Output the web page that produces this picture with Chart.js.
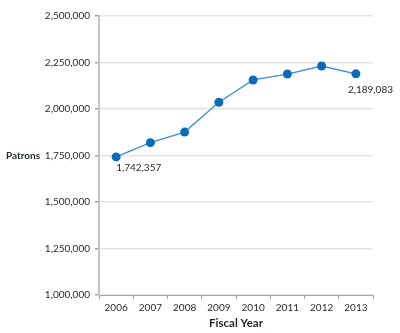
<!DOCTYPE html>
<html>
<head>
<meta charset="utf-8">
<script src="https://cdn.jsdelivr.net/npm/chart.js@4"></script>
<style>
  html, body { margin: 0; padding: 0; background: #fff; }
  #wrap { width: 400px; height: 333px; }
</style>
</head>
<body>
<div id="wrap"><canvas id="patronsChart"></canvas></div>
<script>
const years = ['2006', '2007', '2008', '2009', '2010', '2011', '2012', '2013'];
const patrons = [1742357, 1819000, 1876000, 2036000, 2156000, 2188000, 2231000, 2189083];
const labelledPoints = [0, 7]; // which points get a value label

const fontName = 'Lato, "Open Sans", sans-serif';
const textColor = '#2b2b2b';

// draws "Patrons" beside the axis and the two value labels
const extraText = {
    id: 'extraText',
    afterDatasetsDraw(chart) {
        const ctx = chart.ctx;
        const yScale = chart.scales.y;
        const meta = chart.getDatasetMeta(0);

        ctx.save();
        ctx.fillStyle = '#1f2a1f';
        ctx.font = 'bold 10px ' + fontName;
        ctx.textAlign = 'left';
        ctx.textBaseline = 'middle';
        ctx.fillText('Patrons', 6, yScale.getPixelForValue(1750000));

        ctx.fillStyle = textColor;
        ctx.font = '10px ' + fontName;
        labelledPoints.forEach(i => {
            const pt = meta.data[i];
            const txt = patrons[i].toLocaleString('en-US');
            if (i === 0) {
                ctx.fillText(txt, pt.x, pt.y + 11);
            } else {
                ctx.fillText(txt, pt.x - 8, pt.y + 16);
            }
        });
        ctx.restore();
    }
};

const config = {
    type: 'line',
    data: {
        labels: years,
        datasets: [{
            label: 'Patrons',
            data: patrons,
            borderColor: '#3d8fd3',
            borderWidth: 1.3,
            backgroundColor: '#0b6bb8',
            pointBackgroundColor: '#0b6bb8',
            pointBorderColor: '#0b6bb8',
            pointBorderWidth: 0,
            pointRadius: 4.5,
            tension: 0
        }]
    },
    options: {
        animation: false,
        responsive: true,
        maintainAspectRatio: false,
        layout: {
            padding: { left: 42, right: 27, top: 16, bottom: 0 }
        },
        plugins: {
            legend: { display: false },
            tooltip: { enabled: false }
        },
        scales: {
            x: {
                offset: true,
                grid: {
                    offset: true,
                    drawOnChartArea: false,
                    drawTicks: true,
                    tickLength: 4,
                    tickColor: '#a0a0a0'
                },
                border: { color: '#a8a8a8', width: 1 },
                ticks: {
                    color: textColor,
                    font: { family: fontName, size: 10 },
                    padding: 3,
                    maxRotation: 0
                },
                title: {
                    display: true,
                    text: 'Fiscal Year',
                    color: '#1f2a1f',
                    font: { family: fontName, size: 11.5, weight: 'bold' },
                    padding: { top: 0, bottom: 3 }
                },
                afterFit(scale) {
                    scale.height = 38;
                }
            },
            y: {
                min: 1000000,
                max: 2500000,
                grid: {
                    color: '#e4e4e4',
                    lineWidth: 1.5,
                    tickLength: 4,
                    tickColor: '#a0a0a0'
                },
                border: { color: '#c4c4c4', width: 2 },
                ticks: {
                    stepSize: 250000,
                    color: textColor,
                    font: { family: fontName, size: 10 },
                    padding: 5,
                    callback: v => v.toLocaleString('en-US')
                },
                afterFit(scale) {
                    scale.width = 57;
                }
            }
        }
    },
    plugins: [extraText]
};

const ctx = document.getElementById('patronsChart').getContext('2d');
const patronsChart = new Chart(ctx, config);
</script>
</body>
</html>
